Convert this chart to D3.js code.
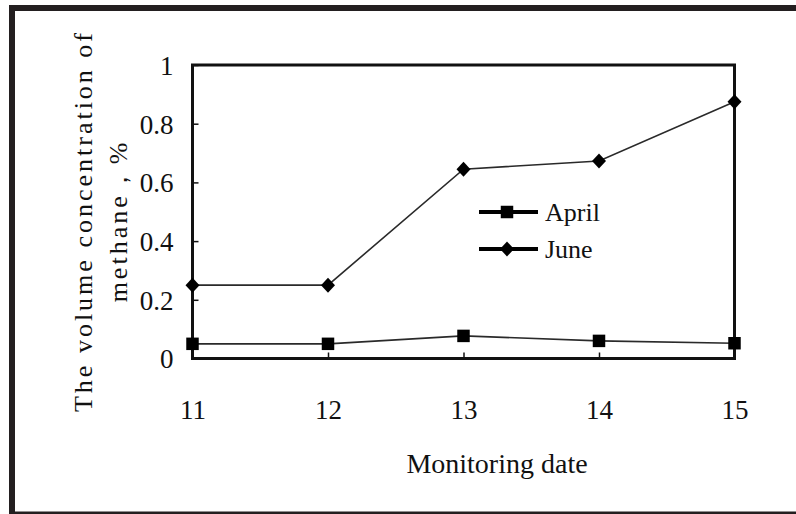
<!DOCTYPE html>
<html>
<head>
<meta charset="utf-8">
<script src="https://cdn.jsdelivr.net/npm/d3@7"></script>
<style>
  html, body { margin: 0; padding: 0; background: #fff; }
  svg { display: block; }
</style>
</head>
<body>
<svg id="chart" width="796" height="514"></svg>
<script>
// Monitoring dates (day of month) and methane volume concentration (%)
const dates = [11, 12, 13, 14, 15];
const april = [0.05, 0.05, 0.077, 0.06, 0.052];
const june = [0.25, 0.25, 0.645, 0.673, 0.875];
const yTicks = [0, 0.2, 0.4, 0.6, 0.8, 1];
const seriesNames = ["April", "June"];
const xTitle = "Monitoring date";
const yTitleLines = ["The volume concentration of", "methane，%"];

const SERIF = "Liberation Serif";
const TEXT_FILL = "#111";

const svg = d3.select("#chart");
const W = 796, H = 514;
const plot = { left: 192.5, right: 734.5, top: 65, bottom: 358.5 };

// Outer frame: thick dark border on the top and left, thinner one at the bottom
svg.append("rect").attr("x", 0).attr("y", 0).attr("width", W).attr("height", H).attr("fill", "#fff");
svg.append("path")
  .attr("d", `M${W},8 H12 V${H}`)
  .attr("fill", "none").attr("stroke", "#231f20").attr("stroke-width", 6);
svg.append("line").attr("x1", 9).attr("x2", W).attr("y1", 512.8).attr("y2", 512.8)
  .attr("stroke", "#231f20").attr("stroke-width", 2.6);

const x = d3.scaleLinear().domain([11, 15]).range([plot.left, plot.right]);
const y = d3.scaleLinear().domain([0, 1]).range([plot.bottom, plot.top]);

// Axes with inward-pointing ticks
const xAxis = d3.axisBottom(x).tickValues(dates).tickFormat(d3.format("d"))
  .tickSizeInner(-6).tickSizeOuter(0).tickPadding(0);
const yAxis = d3.axisLeft(y).tickValues(yTicks)
  .tickFormat(d => (d === 0 || d === 1) ? d3.format("d")(d) : d3.format(".1f")(d))
  .tickSizeInner(-6).tickSizeOuter(0).tickPadding(0);

function styleText(sel, size) {
  return sel.attr("font-family", SERIF).attr("font-size", size)
    .style("font-family", SERIF).style("font-size", size + "px").style("fill", TEXT_FILL);
}

const gx = svg.append("g").attr("transform", `translate(0,${plot.bottom})`).call(xAxis);
gx.attr("font-family", SERIF).attr("font-size", 27);
gx.select(".domain").remove();
gx.selectAll(".tick line").attr("stroke", "#111").attr("stroke-width", 1.5);
styleText(gx.selectAll(".tick text").attr("y", 60).attr("dy", 0), 27);

const gy = svg.append("g").attr("transform", `translate(${plot.left},0)`).call(yAxis);
gy.attr("font-family", SERIF).attr("font-size", 27);
gy.select(".domain").remove();
gy.selectAll(".tick line").attr("stroke", "#111").attr("stroke-width", 1.5);
styleText(gy.selectAll(".tick text").attr("x", -19).attr("dy", "0.35em"), 27);

// Plot frame
svg.append("rect")
  .attr("x", plot.left).attr("y", plot.top)
  .attr("width", plot.right - plot.left).attr("height", plot.bottom - plot.top)
  .attr("fill", "none").attr("stroke", "#111").attr("stroke-width", 3);

const line = d3.line().x((d, i) => x(dates[i])).y(d => y(d));

const squarePath = d3.symbol().type(d3.symbolSquare).size(156)();
const diamondPath = "M0,-7.5 L7,0 L0,7.5 L-7,0 Z";

function drawSeries(values, marker) {
  svg.append("path").datum(values)
    .attr("d", line).attr("fill", "none")
    .attr("stroke", "#2a2a2a").attr("stroke-width", 1.6);
  svg.selectAll(null).data(values).enter().append("path")
    .attr("transform", (d, i) => `translate(${x(dates[i])},${y(d)})`)
    .attr("d", marker).attr("fill", "#000");
}
drawSeries(april, squarePath);
drawSeries(june, diamondPath);

// Legend
const legend = svg.append("g");
const legendItems = [
  { name: seriesNames[0], marker: squarePath, y: 212 },
  { name: seriesNames[1], marker: diamondPath, y: 249 }
];
legendItems.forEach(it => {
  legend.append("line").attr("x1", 479).attr("x2", 538).attr("y1", it.y).attr("y2", it.y)
    .attr("stroke", "#000").attr("stroke-width", 4);
  legend.append("path").attr("transform", `translate(507,${it.y})`).attr("d", it.marker).attr("fill", "#000");
  styleText(legend.append("text").attr("x", 545).attr("y", it.y).attr("dy", "0.33em"), 26)
    .text(it.name);
});

// Axis titles
styleText(svg.append("text").attr("x", 497).attr("y", 473).attr("text-anchor", "middle"), 28)
  .text(xTitle);

const yTitle = styleText(svg.append("text")
  .attr("transform", "translate(0,221) rotate(-90)")
  .attr("text-anchor", "middle"), 26)
  .style("letter-spacing", "3px");
yTitle.append("tspan").attr("x", 0).attr("y", 92).text(yTitleLines[0]);
yTitle.append("tspan").attr("x", 0).attr("y", 127).text(yTitleLines[1]);
</script>
</body>
</html>
